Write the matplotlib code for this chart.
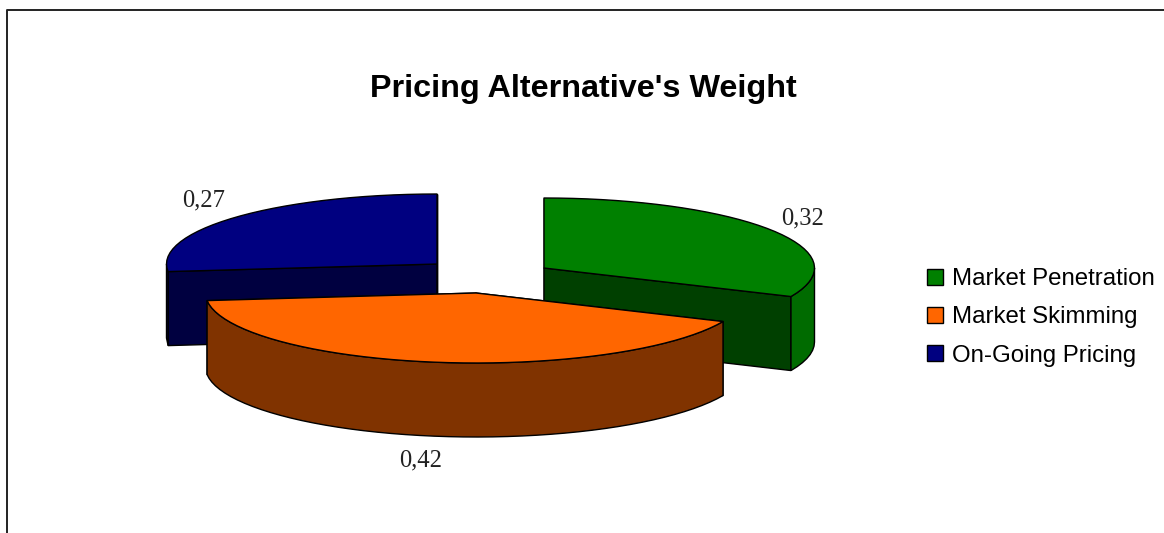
import numpy as np
import matplotlib
matplotlib.use("Agg")
import matplotlib.pyplot as plt
from matplotlib.patches import Patch, Polygon

categories = ["Market Penetration", "Market Skimming", "On-Going Pricing"]
weights = [0.32, 0.42, 0.27]
top_colors = ["#008000", "#FF6600", "#000080"]
rim_colors = ["#006B00", "#803300", "#000060"]
cut_colors = ["#004000", "#803300", "#000040"]

# pie drawing geometry, in pixels
centers = [(544, 268), (476, 293), (437, 264)]
label_pos = [(803, 218), (421, 460), (204, 200)]
rx = 270.5
ry = 70
depth = 74


def ellipse_pts(center, a0, a1):
    # angles run clockwise from 12 o'clock
    n = max(int(abs(a1 - a0) / 3), 2)
    t = np.radians(np.linspace(a0, a1, n))
    return np.column_stack((center[0] + rx * np.sin(t), center[1] - ry * np.cos(t)))


def draw_slice(ax, center, a0, a1, top, rim, cut, z):
    apex = np.array(center, dtype=float)
    drop = np.array([0, depth])
    arc = ellipse_pts(center, a0, a1)

    # flat cut faces showing behind the slice top
    for end in (arc[0], arc[-1]):
        if end[1] > apex[1] or abs(end[0] - apex[0]) < 1:
            face = [apex, end, end + drop, apex + drop]
            ax.add_patch(Polygon(face, fc=cut, ec="black", lw=1.0, zorder=z))

    # outer rim, only the part of the arc facing forward
    low = max(a0, 90)
    high = min(a1, 270)
    if low < high:
        front = ellipse_pts(center, low, high)
        ax.add_patch(Polygon(np.vstack((front, front[::-1] + drop)),
                             fc=rim, ec="black", lw=1.0, zorder=z + 0.1))

    ax.add_patch(Polygon(np.vstack((apex, arc)), fc=top, ec="black", lw=1.0,
                         joinstyle="round", zorder=z + 0.2))


fig = plt.figure(figsize=(11.64, 5.33), dpi=100)
ax = fig.add_axes([0, 0, 1, 1])
ax.set_xlim(0, 1164)
ax.set_ylim(533, 0)
ax.axis("off")

ax.plot([1164, 6.5, 6.5], [9.5, 9.5, 533], color="#222222", lw=1.4)

ax.text(583.5, 88.5, "Pricing Alternative's Weight", family="Liberation Sans",
        weight="bold", fontsize=23.3, ha="center", va="center")

# slices go clockwise from the top, blue first so the others overlap it
angles = np.cumsum([0] + weights) / sum(weights) * 360
for i in [2, 0, 1]:
    draw_slice(ax, centers[i], angles[i], angles[i + 1],
               top_colors[i], rim_colors[i], cut_colors[i], 2 + i if i < 2 else 1)

for w, pos in zip(weights, label_pos):
    ax.text(pos[0], pos[1], f"{w:.2f}".replace(".", ","), family="Liberation Serif",
            fontsize=17.7, color="#222222", ha="center", va="center")

handles = [Patch(fc=c, ec="black", lw=1.0) for c in top_colors]
ax.legend(handles, categories, loc="center left", bbox_to_anchor=(927, 317.5),
          bbox_transform=ax.transData, frameon=False, borderpad=0, borderaxespad=0,
          prop={"family": "Liberation Sans", "size": 17.3}, handlelength=0.67,
          handleheight=0.67, handletextpad=0.37, labelspacing=0.67)

fig.savefig("out.png", dpi=100)
